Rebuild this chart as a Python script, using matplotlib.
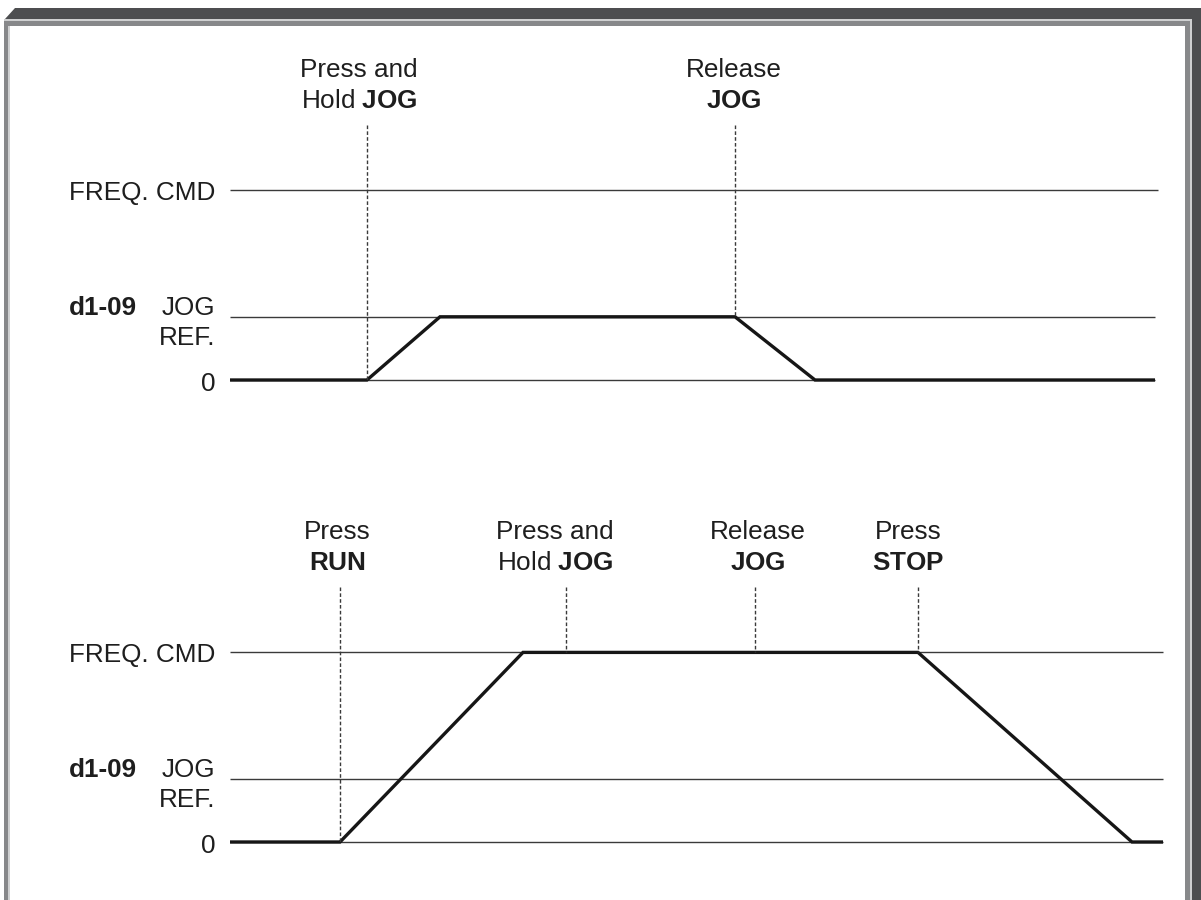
import numpy as np
import matplotlib
matplotlib.use("Agg")
from matplotlib import pyplot as plt
from matplotlib.patches import Rectangle, Polygon

plt.rcParams['font.family'] = ['Liberation Sans', 'DejaVu Sans']
plt.rcParams['mathtext.fontset'] = 'custom'
plt.rcParams['mathtext.rm'] = 'Liberation Sans'
plt.rcParams['mathtext.bf'] = 'Liberation Sans:bold'

# levels of the output frequency
ZERO = 0.0
JOG = 1.0
FREQ = 3.0
levels = [FREQ, JOG, ZERO]

# upper diagram: jog while stopped
top_t = [230, 367, 440, 735, 815, 1155]
top_v = [ZERO, ZERO, JOG, JOG, ZERO, ZERO]
top_ref_end = [1158, 1155, 1155]
top_event_t = [367, 735]
top_label_x = [359, 734]
top_line1 = ["Press and", "Release"]
top_line2 = [r"Hold $\mathbf{JOG}$", r"$\mathbf{JOG}$"]

# lower diagram: jog while running
bot_t = [230, 340, 523, 918, 1132, 1163]
bot_v = [ZERO, ZERO, FREQ, FREQ, ZERO, ZERO]
bot_ref_end = [1163, 1163, 1163]
bot_event_t = [340, 566, 755, 918]
bot_label_x = [337, 555, 758, 908]
bot_line1 = ["Press", "Press and", "Release", "Press"]
bot_line2 = [r"$\mathbf{RUN}$", r"Hold $\mathbf{JOG}$", r"$\mathbf{JOG}$", r"$\mathbf{STOP}$"]

W, H = 1201, 900
PX = 63.2  # pixels per level unit
fs = 18.8
ink = '#1e1e1e'

fig = plt.figure(figsize=(W / 100, H / 100), dpi=100)

# frame drawn on a background axes in pixel units
bg = fig.add_axes([0, 0, 1, 1])
bg.set_xlim(0, W)
bg.set_ylim(H, 0)
bg.axis('off')
dark = '#4d4e50'
gray = '#87888a'
light = '#cfd0d1'
bg.add_patch(Polygon([[5, 19], [15, 8], [W, 8], [W, 19]], closed=True, color=dark, lw=0))
bg.add_patch(Rectangle((4, 19), 1188, 2, color=light, lw=0))
bg.add_patch(Rectangle((4, 21), 1186, 5, color=gray, lw=0))
bg.add_patch(Rectangle((4, 21), 4, H, color=gray, lw=0))
bg.add_patch(Rectangle((8, 26), 1.5, H, color=light, lw=0))
bg.add_patch(Rectangle((1185, 21), 5, H, color=gray, lw=0))
bg.add_patch(Rectangle((1190, 19), 2, H, color=light, lw=0))
bg.add_patch(Rectangle((1192, 8), 9, H, color=dark, lw=0))


def diagram(rect_px, zero_px, t, v, ref_end, ev_t, lab_x, line1, line2):
    y0, y1 = rect_px
    ax = fig.add_axes([0, 1 - y1 / H, 1, (y1 - y0) / H])
    ax.set_xlim(0, W)
    ax.set_ylim(-(y1 - zero_px) / PX, (zero_px - y0) / PX)
    ax.axis('off')
    ax.patch.set_alpha(0)
    for lv, xe in zip(levels, ref_end):
        ax.plot([230, xe], [lv, lv], color='#3a3a3a', lw=1.0, solid_capstyle='butt')
    ax.plot(t, v, color='#161616', lw=2.4, solid_joinstyle='miter', solid_capstyle='butt')
    for et in ev_t:
        ax.plot([et, et], [4.03, np.interp(et, t, v)], color='#3a3a3a', lw=1.0,
                dashes=(2.6, 1.6))
    for x, a, b in zip(lab_x, line1, line2):
        ax.text(x, 4.79, a, ha='center', va='baseline', fontsize=fs, color=ink)
        ax.text(x, 4.30, b, ha='center', va='baseline', fontsize=fs, color=ink)
    ax.text(215, FREQ - 0.15, "FREQ. CMD", ha='right', va='baseline', fontsize=fs, color=ink)
    ax.text(137, JOG + 0.03, "d1-09", ha='right', va='baseline', fontsize=fs,
            fontweight='bold', color=ink)
    ax.text(215, JOG + 0.03, "JOG", ha='right', va='baseline', fontsize=fs, color=ink)
    ax.text(215, JOG - 0.45, "REF.", ha='right', va='baseline', fontsize=fs, color=ink)
    ax.text(215, ZERO - 0.18, "0", ha='right', va='baseline', fontsize=fs, color=ink)
    return ax


diagram((0, 450), 380, top_t, top_v, top_ref_end, top_event_t, top_label_x, top_line1, top_line2)
diagram((450, 900), 842, bot_t, bot_v, bot_ref_end, bot_event_t, bot_label_x, bot_line1, bot_line2)

fig.savefig('out.png', dpi=100)
